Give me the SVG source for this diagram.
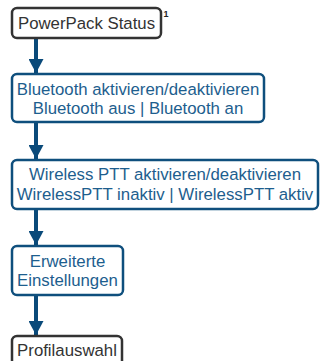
<svg xmlns="http://www.w3.org/2000/svg" width="321" height="361" viewBox="0 0 321 361">
<style>
.dark rect{fill:#fff;stroke:#333;stroke-width:2.5}
.blue rect{fill:#fff;stroke:#0f4f7d;stroke-width:2.5}
text{font-family:"Liberation Sans",Arial,sans-serif;font-size:16.8px;text-anchor:middle}
.dark text{fill:#333}
.blue text{fill:#1d5e8e}
.conn line{stroke:#0a4a7a;stroke-width:4}
</style>
<defs>
<marker id="ah" markerUnits="userSpaceOnUse" markerWidth="15" markerHeight="15" refX="14" refY="7.5" orient="auto">
<path d="M0,0 L14,7.5 L0,15 z" fill="#0a4a7a"/>
</marker>
</defs>
<g id="connectors" class="conn">
<line x1="36" y1="38" x2="36" y2="73" marker-end="url(#ah)"/>
<line x1="36" y1="123" x2="36" y2="159" marker-end="url(#ah)"/>
<line x1="36" y1="209" x2="36" y2="245" marker-end="url(#ah)"/>
<line x1="36" y1="295" x2="36" y2="335" marker-end="url(#ah)"/>
</g>
<g id="n1" class="dark">
<rect x="12" y="8" width="149" height="30" rx="5"/>
<text x="86.5" y="29">PowerPack Status</text>
<text x="166" y="17" style="font-size:9px;font-weight:bold;fill:#222">1</text>
</g>
<g id="n2" class="blue">
<rect x="12" y="74" width="252" height="48" rx="5"/>
<text x="138" y="95">Bluetooth aktivieren/deaktivieren</text>
<text x="138" y="114">Bluetooth aus | Bluetooth an</text>
</g>
<g id="n3" class="blue">
<rect x="12" y="160" width="306" height="49" rx="5"/>
<text x="165" y="180">Wireless PTT aktivieren/deaktivieren</text>
<text x="165" y="200">WirelessPTT inaktiv | WirelessPTT aktiv</text>
</g>
<g id="n4" class="blue">
<rect x="12" y="246" width="111" height="49" rx="5"/>
<text x="67.5" y="267">Erweiterte</text>
<text x="67.5" y="286">Einstellungen</text>
</g>
<g id="n5" class="dark">
<rect x="12" y="336" width="110" height="30" rx="5"/>
<text x="67" y="356">Profilauswahl</text>
</g>
</svg>
